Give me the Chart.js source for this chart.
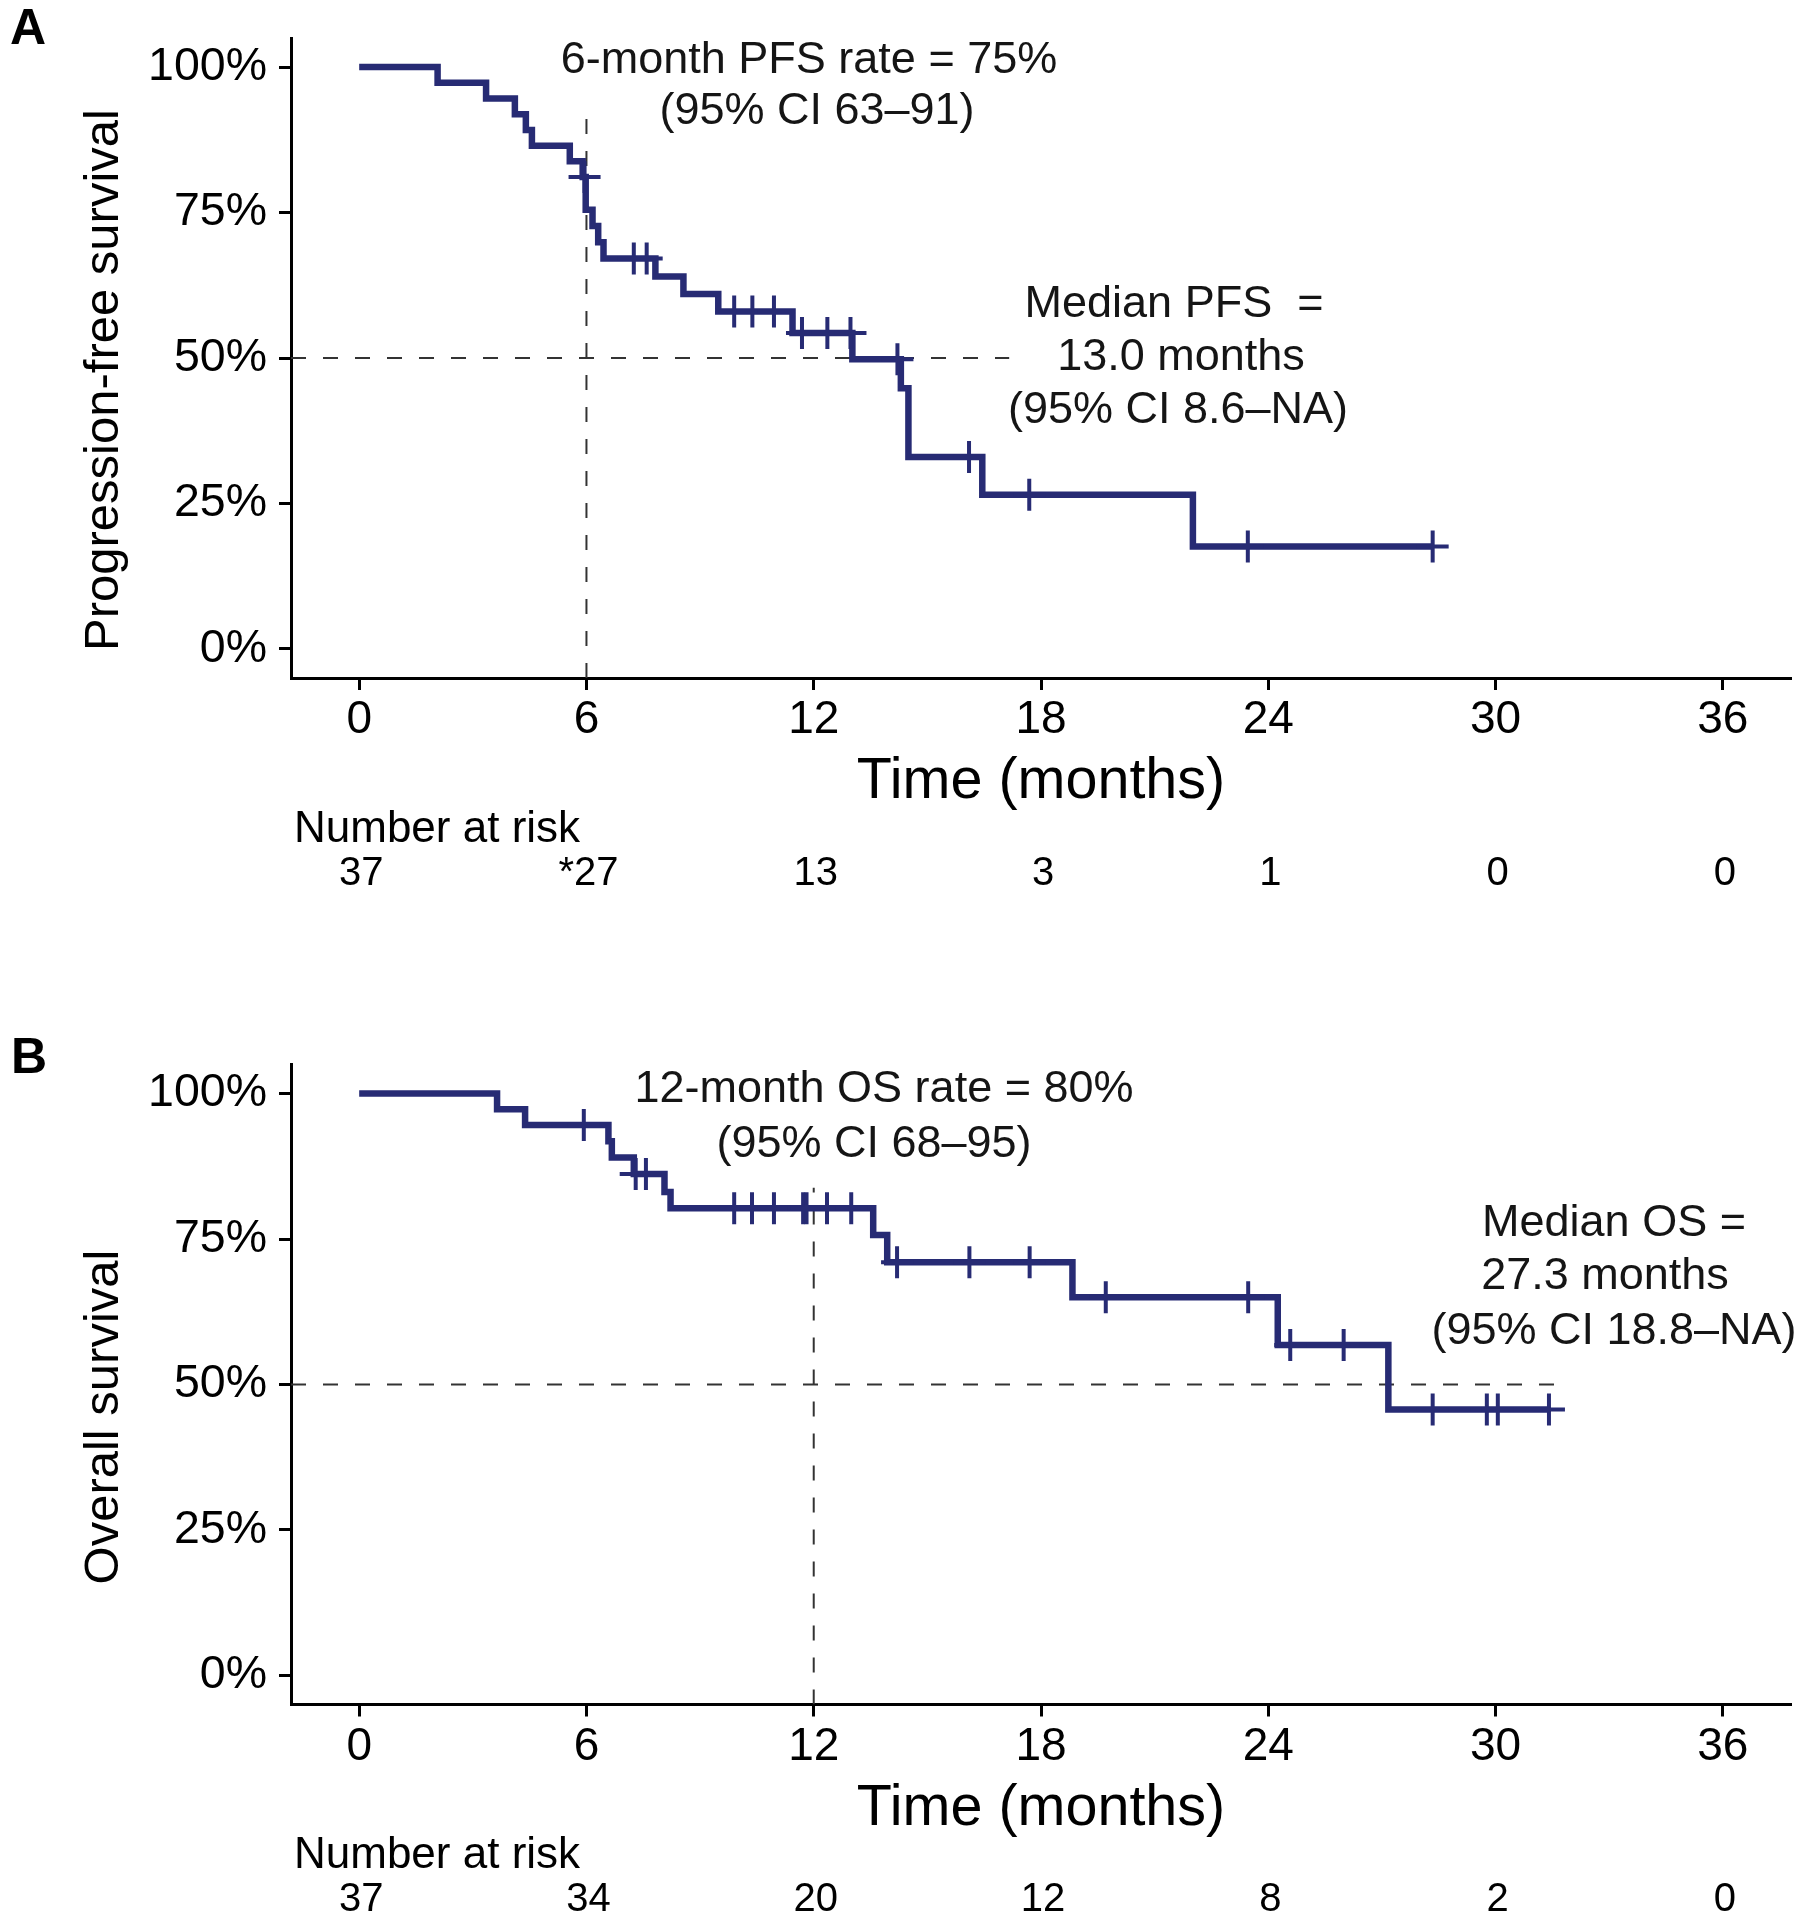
<!DOCTYPE html>
<html><head><meta charset="utf-8">
<script src="https://cdn.jsdelivr.net/npm/chart.js@4.4.1/dist/chart.umd.min.js"></script>
<style>
html,body{margin:0;padding:0;background:#fff;}
#wrap{position:relative;width:1800px;height:1920px;background:#fff;}
canvas{position:absolute;left:0;}
</style></head><body>
<div id="wrap">
<canvas id="pfs" width="1800" height="940" style="top:0px"></canvas>
<canvas id="os" width="1800" height="960" style="top:960px"></canvas>
</div>
<script>
// ---------- data ----------
const xTicks = [0, 6, 12, 18, 24, 30, 36];
const yTicks = [0, 25, 50, 75, 100];

const pfsEventTimes = [0, 2.07, 3.35, 4.11, 4.40, 4.56, 5.56, 5.90, 5.98, 6.16, 6.31, 6.45, 7.82, 8.56, 9.48, 11.44, 13.02, 14.30, 14.50, 16.45, 22.01];
const pfsEventSurv  = [100, 97.3, 94.6, 91.9, 89.2, 86.5, 83.8, 81.1, 75.5, 72.7, 69.9, 67.1, 64.0, 61.0, 58.0, 54.3, 49.8, 44.8, 33.0, 26.5, 17.6];
const pfsCensorTimes = [5.95, 7.25, 7.59, 9.90, 10.38, 10.95, 11.69, 12.36, 12.97, 14.21, 16.10, 17.69, 23.46, 28.34];
const pfsCensorSurv  = [81.1, 67.1, 67.1, 58.0, 58.0, 58.0, 54.3, 54.3, 54.3, 49.8, 33.0, 26.5, 17.6, 17.6];
const pfsRisk = ['37', '*27', '13', '3', '1', '0', '0'];
const pfsRefH = {x: [-1.8, 17.16], y: [50, 50]};
const pfsRefV = {x: [6, 6], y: [-5, 91.9]};

const osEventTimes = [0, 3.64, 4.38, 6.58, 6.67, 7.25, 8.06, 8.22, 13.57, 13.94, 18.83, 24.25, 27.17];
const osEventSurv  = [100, 97.3, 94.6, 91.8, 89.0, 86.2, 83.1, 80.3, 75.7, 71.0, 65.0, 56.8, 45.7];
const osCensorTimes = [5.93, 7.30, 7.57, 9.90, 10.37, 10.95, 11.72, 11.81, 12.35, 12.99, 14.20, 16.11, 17.70, 19.71, 23.47, 24.58, 25.99, 28.34, 29.77, 30.06, 31.41];
const osCensorSurv  = [94.6, 86.2, 86.2, 80.3, 80.3, 80.3, 80.3, 80.3, 80.3, 80.3, 71.0, 71.0, 71.0, 65.0, 65.0, 56.8, 56.8, 45.7, 45.7, 45.7, 45.7];
const osRisk = ['37', '34', '20', '12', '8', '2', '0'];
const osRefH = {x: [-1.8, 31.8], y: [50, 50]};
const osRefV = {x: [12, 12], y: [-5, 83.8]};

// ---------- styling ----------
const FONT = '"Liberation Sans", Arial, Helvetica, sans-serif';
const CURVE = '#272B74';
const DASH = '#333333';

function pts(xs, ys) { return xs.map((t, i) => ({x: t, y: ys[i]})); }
function curvePoints(et, es, ct, cs) {
  return pts(et, es).concat(pts(ct, cs)).sort((a, b) => a.x - b.x);
}

const kmText = {
  id: 'kmText',
  afterDraw(chart, args, o) {
    const ctx = chart.ctx, xs = chart.scales.x;
    ctx.save();
    ctx.fillStyle = '#000';
    ctx.textAlign = 'center';
    ctx.textBaseline = 'middle';
    ctx.font = 'bold 50px ' + FONT;
    ctx.fillText(o.panel, o.panelPos[0], o.panelPos[1]);
    ctx.save();
    ctx.translate(o.yTitlePos[0], o.yTitlePos[1]);
    ctx.rotate(-Math.PI / 2);
    ctx.font = '49px ' + FONT;
    ctx.fillText(o.yTitle, 0, 0);
    ctx.restore();
    ctx.fillStyle = '#151515';
    ctx.font = '45px ' + FONT;
    o.notes.forEach(n => ctx.fillText(n.text, n.x, n.y));
    ctx.fillStyle = '#000';
    ctx.textAlign = 'left';
    ctx.font = '44px ' + FONT;
    ctx.fillText('Number at risk', o.riskHeader[0], o.riskHeader[1]);
    ctx.textAlign = 'center';
    ctx.font = '40px ' + FONT;
    o.risk.forEach((r, i) => ctx.fillText(r, xs.getPixelForValue(xTicks[i]) + 2, o.riskY));
    ctx.restore();
  }
};

function makeChart(id, cfg) {
  const refDs = (d) => ({
    type: 'line', data: pts(d.x, d.y), borderColor: DASH, borderWidth: 2,
    borderDash: [15, 17], pointRadius: 0, fill: false, tension: 0
  });
  new Chart(document.getElementById(id), {
    type: 'line',
    data: {
      datasets: [
        { type: 'scatter', data: pts(cfg.ct, cfg.cs), pointStyle: 'cross', pointRadius: 16,
          pointBorderWidth: 4, borderColor: CURVE, backgroundColor: CURVE, showLine: false },
        { data: curvePoints(cfg.et, cfg.es, cfg.ct, cfg.cs), stepped: 'before', borderColor: CURVE,
          borderWidth: 6.5, pointRadius: 0, fill: false, borderJoinStyle: 'miter', borderCapStyle: 'butt' },
        refDs(cfg.refH),
        refDs(cfg.refV)
      ]
    },
    options: {
      responsive: false, animation: false, devicePixelRatio: 1,
      layout: { autoPadding: false, padding: { left: 0, right: 9, top: cfg.top, bottom: cfg.padBottom } },
      plugins: { legend: { display: false }, tooltip: { enabled: false }, kmText: cfg.text },
      scales: {
        x: {
          type: 'linear', min: -1.8, max: 37.8,
          afterBuildTicks: s => { s.ticks = xTicks.map(v => ({value: v})); },
          afterFit: s => { s.height = cfg.xHeight; s.paddingLeft = 0; s.paddingRight = 0; },
          grid: { display: true, drawOnChartArea: false, drawTicks: true, tickLength: 12, tickWidth: 3, tickColor: '#000' },
          border: { display: true, color: '#000', width: 3 },
          ticks: { color: '#000', font: { family: FONT, size: 46 }, padding: 3, maxRotation: 0, autoSkip: false },
          title: { display: true, text: 'Time (months)', color: '#000', font: { family: FONT, size: 57.5 }, padding: 0 }
        },
        y: {
          type: 'linear', min: -5, max: 105,
          afterBuildTicks: s => { s.ticks = yTicks.map(v => ({value: v})); },
          afterFit: s => { s.width = 291; s.paddingTop = 0; s.paddingBottom = 0; },
          grid: { display: true, drawOnChartArea: false, drawTicks: true, tickLength: 12, tickWidth: 3, tickColor: '#000' },
          border: { display: true, color: '#000', width: 3 },
          ticks: { color: '#000', font: { family: FONT, size: 46.5 }, padding: 12, callback: v => v + '%' }
        }
      }
    },
    plugins: [kmText]
  });
}

makeChart('pfs', {
  et: pfsEventTimes, es: pfsEventSurv, ct: pfsCensorTimes, cs: pfsCensorSurv,
  refH: pfsRefH, refV: pfsRefV, top: 38, padBottom: 123, xHeight: 139,
  text: {
    panel: 'A', panelPos: [28, 30],
    yTitle: 'Progression-free survival', yTitlePos: [104, 380],
    notes: [
      {text: '6-month PFS rate = 75%', x: 809, y: 61},
      {text: '(95% CI 63\u201391)', x: 817, y: 112},
      {text: 'Median PFS  =', x: 1174, y: 305},
      {text: '13.0 months', x: 1181, y: 358},
      {text: '(95% CI 8.6\u2013NA)', x: 1178, y: 411}
    ],
    riskHeader: [294, 830], risk: pfsRisk, riskY: 874
  }
});

makeChart('os', {
  et: osEventTimes, es: osEventSurv, ct: osCensorTimes, cs: osCensorSurv,
  refH: osRefH, refV: osRefV, top: 104.5, padBottom: 76, xHeight: 139.5,
  text: {
    panel: 'B', panelPos: [29, 99],
    yTitle: 'Overall survival', yTitlePos: [104, 457],
    notes: [
      {text: '12-month OS rate = 80%', x: 884, y: 130},
      {text: '(95% CI 68\u201395)', x: 874, y: 185},
      {text: 'Median OS =', x: 1614, y: 264},
      {text: '27.3 months', x: 1605, y: 317},
      {text: '(95% CI 18.8\u2013NA)', x: 1614, y: 372}
    ],
    riskHeader: [294, 896], risk: osRisk, riskY: 940
  }
});
</script>
</body></html>
